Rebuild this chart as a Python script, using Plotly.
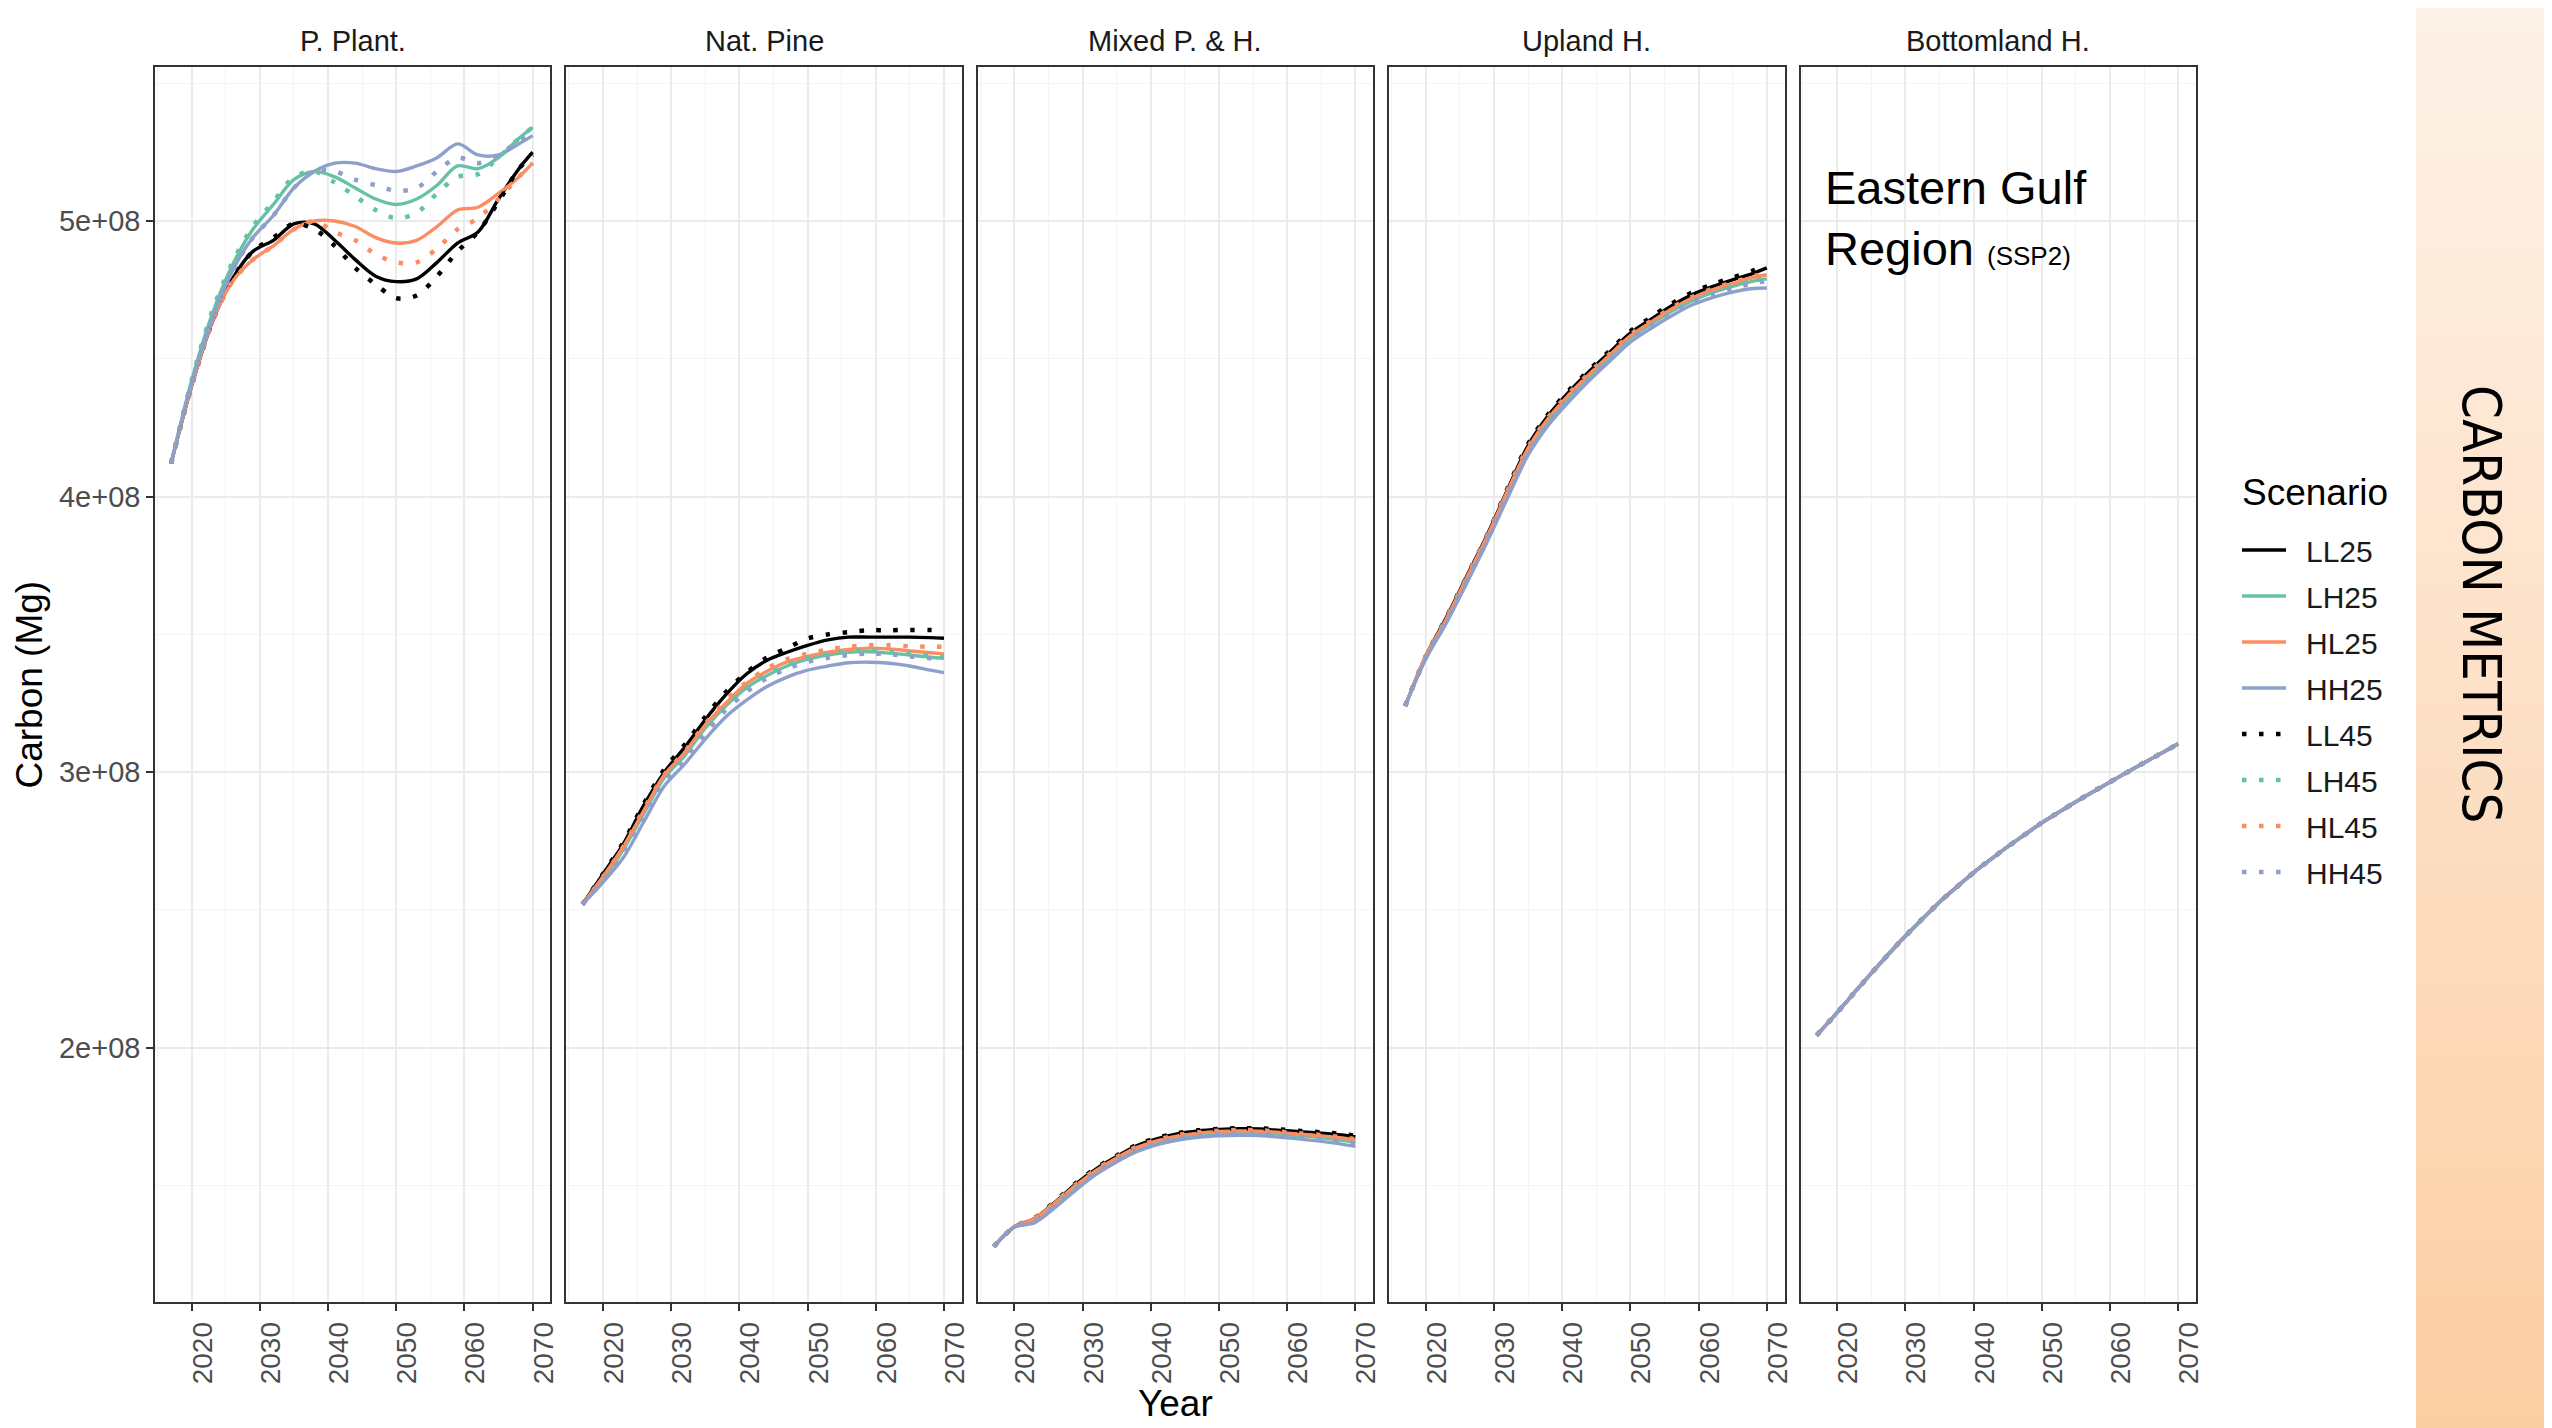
import plotly.graph_objects as go

# ---------------- data (values in units of 1e8 Mg) ----------------
YEARS = [2017, 2020, 2023, 2026, 2029, 2032, 2035, 2038, 2041, 2044, 2047,
         2050, 2053, 2056, 2059, 2062, 2065, 2068, 2070]
UNIT = 1e8

PANELS = ["P. Plant.", "Nat. Pine", "Mixed P. & H.", "Upland H.", "Bottomland H."]
SCENARIOS = ["LL25", "LH25", "HL25", "HH25", "LL45", "LH45", "HL45", "HH45"]
SCEN_COLORS = ["#000000", "#66C2A5", "#FC8D62", "#8DA0CB",
               "#000000", "#66C2A5", "#FC8D62", "#8DA0CB"]

# P. Plant.
PP_LL25 = [4.12, 4.40, 4.63, 4.79, 4.89, 4.93, 4.99, 4.99, 4.93, 4.86, 4.80, 4.78, 4.79, 4.85, 4.92, 4.96, 5.08, 5.19, 5.25]
PP_LH25 = [4.12, 4.42, 4.66, 4.84, 4.97, 5.06, 5.15, 5.18, 5.16, 5.12, 5.08, 5.06, 5.08, 5.13, 5.20, 5.19, 5.23, 5.30, 5.34]
PP_HL25 = [4.12, 4.40, 4.63, 4.78, 4.86, 4.91, 4.97, 5.00, 5.00, 4.98, 4.94, 4.92, 4.93, 4.98, 5.04, 5.05, 5.10, 5.16, 5.21]
PP_HH25 = [4.12, 4.41, 4.64, 4.82, 4.94, 5.02, 5.12, 5.18, 5.21, 5.21, 5.19, 5.18, 5.20, 5.23, 5.28, 5.24, 5.24, 5.28, 5.31]
PP_LL45 = [4.12, 4.40, 4.63, 4.79, 4.89, 4.94, 4.99, 4.97, 4.91, 4.83, 4.77, 4.72, 4.73, 4.80, 4.89, 4.96, 5.07, 5.19, 5.24]
PP_LH45 = [4.12, 4.42, 4.67, 4.85, 4.98, 5.07, 5.16, 5.18, 5.14, 5.09, 5.04, 5.01, 5.03, 5.10, 5.16, 5.17, 5.23, 5.30, 5.34]
PP_HL45 = [4.12, 4.40, 4.63, 4.78, 4.86, 4.91, 4.97, 5.00, 4.96, 4.93, 4.88, 4.85, 4.85, 4.90, 4.97, 5.01, 5.08, 5.16, 5.21]
PP_HH45 = [4.12, 4.41, 4.64, 4.82, 4.94, 5.02, 5.12, 5.18, 5.18, 5.15, 5.13, 5.11, 5.12, 5.18, 5.23, 5.21, 5.24, 5.29, 5.31]

# Nat. Pine
NP_LL25 = [2.52, 2.63, 2.74, 2.88, 3.00, 3.09, 3.19, 3.28, 3.355, 3.405, 3.435, 3.46, 3.48, 3.49, 3.49, 3.49, 3.49, 3.488, 3.486]
NP_LH25 = [2.52, 2.61, 2.72, 2.85, 2.98, 3.06, 3.16, 3.24, 3.305, 3.35, 3.385, 3.41, 3.425, 3.435, 3.437, 3.432, 3.425, 3.417, 3.413]
NP_HL25 = [2.52, 2.62, 2.73, 2.86, 2.99, 3.07, 3.17, 3.25, 3.32, 3.365, 3.40, 3.42, 3.435, 3.445, 3.45, 3.447, 3.44, 3.433, 3.429]
NP_HH25 = [2.52, 2.60, 2.69, 2.82, 2.95, 3.03, 3.12, 3.20, 3.26, 3.31, 3.345, 3.37, 3.385, 3.397, 3.399, 3.395, 3.385, 3.37, 3.361]
NP_LL45 = [2.52, 2.63, 2.745, 2.885, 3.01, 3.10, 3.20, 3.29, 3.36, 3.415, 3.45, 3.485, 3.50, 3.508, 3.515, 3.515, 3.516, 3.516, 3.516]
NP_LH45 = [2.52, 2.61, 2.72, 2.855, 2.985, 3.065, 3.165, 3.245, 3.31, 3.355, 3.39, 3.415, 3.43, 3.44, 3.442, 3.437, 3.43, 3.422, 3.418]
NP_HL45 = [2.52, 2.62, 2.73, 2.865, 2.99, 3.075, 3.175, 3.26, 3.325, 3.375, 3.41, 3.43, 3.445, 3.455, 3.46, 3.46, 3.457, 3.455, 3.455]
NP_HH45 = [2.52, 2.605, 2.70, 2.835, 2.965, 3.045, 3.14, 3.225, 3.29, 3.34, 3.375, 3.40, 3.415, 3.425, 3.43, 3.428, 3.42, 3.413, 3.41]

# Mixed P. & H.
MX_LL25 = [1.278, 1.35, 1.38, 1.44, 1.505, 1.56, 1.605, 1.645, 1.67, 1.688, 1.698, 1.703, 1.706, 1.705, 1.70, 1.695, 1.69, 1.683, 1.676]
MX_LH25 = [1.278, 1.35, 1.375, 1.432, 1.495, 1.55, 1.595, 1.633, 1.658, 1.675, 1.685, 1.69, 1.692, 1.691, 1.686, 1.68, 1.673, 1.664, 1.657]
MX_HL25 = [1.278, 1.35, 1.38, 1.438, 1.50, 1.555, 1.60, 1.638, 1.663, 1.68, 1.69, 1.696, 1.698, 1.697, 1.692, 1.686, 1.68, 1.672, 1.665]
MX_HH25 = [1.278, 1.348, 1.365, 1.42, 1.483, 1.54, 1.585, 1.623, 1.648, 1.665, 1.675, 1.68, 1.682, 1.681, 1.675, 1.668, 1.66, 1.65, 1.642]
MX_LL45 = [1.278, 1.35, 1.382, 1.443, 1.508, 1.563, 1.608, 1.648, 1.673, 1.69, 1.70, 1.705, 1.708, 1.707, 1.703, 1.698, 1.693, 1.687, 1.68]
MX_LH45 = [1.278, 1.35, 1.376, 1.434, 1.497, 1.552, 1.597, 1.635, 1.66, 1.677, 1.687, 1.692, 1.694, 1.693, 1.688, 1.682, 1.675, 1.667, 1.66]
MX_HL45 = [1.278, 1.35, 1.381, 1.44, 1.503, 1.558, 1.603, 1.641, 1.666, 1.683, 1.693, 1.699, 1.701, 1.700, 1.695, 1.689, 1.683, 1.675, 1.668]
MX_HH45 = [1.278, 1.349, 1.37, 1.428, 1.49, 1.546, 1.591, 1.629, 1.654, 1.671, 1.681, 1.686, 1.688, 1.687, 1.681, 1.675, 1.667, 1.658, 1.65]

# Upland H.
UP_LL25 = [3.24, 3.42, 3.56, 3.71, 3.86, 4.025, 4.185, 4.295, 4.38, 4.455, 4.525, 4.593, 4.643, 4.692, 4.732, 4.762, 4.787, 4.81, 4.83]
UP_LH25 = [3.24, 3.42, 3.55, 3.70, 3.85, 4.01, 4.165, 4.275, 4.36, 4.437, 4.507, 4.575, 4.625, 4.672, 4.71, 4.74, 4.763, 4.782, 4.79]
UP_HL25 = [3.24, 3.42, 3.555, 3.705, 3.855, 4.02, 4.175, 4.285, 4.37, 4.445, 4.515, 4.583, 4.633, 4.68, 4.72, 4.75, 4.773, 4.795, 4.805]
UP_HH25 = [3.24, 3.41, 3.54, 3.685, 3.835, 3.995, 4.15, 4.26, 4.345, 4.422, 4.492, 4.56, 4.61, 4.655, 4.695, 4.722, 4.742, 4.755, 4.757]
UP_LL45 = [3.24, 3.42, 3.56, 3.71, 3.86, 4.03, 4.19, 4.30, 4.385, 4.46, 4.53, 4.60, 4.65, 4.70, 4.74, 4.77, 4.795, 4.82, 4.84]
UP_LH45 = [3.24, 3.42, 3.552, 3.702, 3.852, 4.013, 4.168, 4.278, 4.363, 4.44, 4.51, 4.578, 4.628, 4.675, 4.713, 4.743, 4.766, 4.785, 4.793]
UP_HL45 = [3.24, 3.42, 3.557, 3.707, 3.858, 4.024, 4.179, 4.289, 4.374, 4.449, 4.519, 4.587, 4.637, 4.684, 4.724, 4.754, 4.777, 4.799, 4.81]
UP_HH45 = [3.24, 3.415, 3.548, 3.695, 3.845, 4.005, 4.16, 4.27, 4.355, 4.432, 4.502, 4.57, 4.62, 4.666, 4.705, 4.734, 4.756, 4.774, 4.782]

# Bottomland H. (all scenarios coincide)
BH_ALL = [2.045, 2.127, 2.213, 2.297, 2.379, 2.455, 2.528, 2.593, 2.655, 2.711, 2.764, 2.816, 2.862, 2.907, 2.95, 2.992, 3.034, 3.075, 3.103]

Y_TICKS = [2, 3, 4, 5]
Y_TICK_LABELS = ["2e+08", "3e+08", "4e+08", "5e+08"]
Y_MINOR = [1.5, 2.5, 3.5, 4.5, 5.5]
X_TICKS = [2020, 2030, 2040, 2050, 2060, 2070]
X_MINOR = [2015, 2025, 2035, 2045, 2055, 2065]

PANEL_DATA = {
    "P. Plant.": [PP_LL25, PP_LH25, PP_HL25, PP_HH25, PP_LL45, PP_LH45, PP_HL45, PP_HH45],
    "Nat. Pine": [NP_LL25, NP_LH25, NP_HL25, NP_HH25, NP_LL45, NP_LH45, NP_HL45, NP_HH45],
    "Mixed P. & H.": [MX_LL25, MX_LH25, MX_HL25, MX_HH25, MX_LL45, MX_LH45, MX_HL45, MX_HH45],
    "Upland H.": [UP_LL25, UP_LH25, UP_HL25, UP_HH25, UP_LL45, UP_LH45, UP_HL45, UP_HH45],
    "Bottomland H.": [BH_ALL] * 8,
}

# ---------------- layout geometry (target page pixels) ----------------
W, H = 2552, 1428
OFF = 8            # default page body margin that shifts the figure
XSCALE = 2560 / 2552  # page (margin + figure) is fitted into the window width


def px(xp):
    return (xp * XSCALE - OFF) / W


def py(yp):
    return 1 - (yp - OFF) / H


FONT = "Liberation Sans, Arial, Helvetica, sans-serif"
PANEL_LEFT0 = 155.0
PANEL_STEP = 411.4
PANEL_W = 395.3
PANEL_TOP = 67.0
PANEL_BOTTOM = 1302.0
Y_DOM = [py(PANEL_BOTTOM), py(PANEL_TOP)]
X_RANGE = [2014.65, 2072.6]
Y_RANGE = [1.077 * UNIT, 5.559 * UNIT]

fig = go.Figure()

for p, panel in enumerate(PANELS):
    xa = "x" if p == 0 else f"x{p+1}"
    ya = "y" if p == 0 else f"y{p+1}"
    for s, scen in enumerate(SCENARIOS):
        vals = PANEL_DATA[panel][s]
        dotted = scen.endswith("45")
        fig.add_trace(go.Scatter(
            x=YEARS, y=[v * UNIT for v in vals],
            mode="lines", name="\u2002" + scen, legendgroup=scen,
            showlegend=(p == 0),
            line=dict(color=SCEN_COLORS[s], width=4.5 if dotted else 3.4,
                      dash="4.5px,12.5px" if dotted else "solid",
                      shape="spline", smoothing=0.9),
            xaxis=xa, yaxis=ya, hoverinfo="skip",
        ))

layout = dict(
    width=W, height=H, autosize=False,
    margin=dict(l=0, r=0, t=0, b=0),
    paper_bgcolor="white", plot_bgcolor="white",
    font=dict(family=FONT, color="#000000"),
    legend=dict(
        x=px(2237), y=py(524), xanchor="left", yanchor="top",
        font=dict(size=30, color="#1A1A1A"),
        bgcolor="rgba(0,0,0,0)", tracegroupgap=4, itemwidth=44,
    ),
    showlegend=True,
)

for p in range(len(PANELS)):
    left = PANEL_LEFT0 + p * PANEL_STEP
    dom = [px(left), px(left + PANEL_W)]
    xk = "xaxis" if p == 0 else f"xaxis{p+1}"
    yk = "yaxis" if p == 0 else f"yaxis{p+1}"
    layout[xk] = dict(
        domain=dom, range=X_RANGE, anchor="y" if p == 0 else f"y{p+1}",
        tickmode="array", tickvals=X_TICKS, ticktext=[str(t) for t in X_TICKS],
        tickangle=-90, ticks="outside", ticklen=7, tickwidth=1.5, tickcolor="#333333",
        tickfont=dict(size=28, color="#4D4D4D"), ticklabelshift=11,
        showgrid=True, gridcolor="#EBEBEB", gridwidth=1.5,
        minor=dict(tickmode="array", tickvals=X_MINOR, showgrid=True,
                   gridcolor="#F4F4F4", gridwidth=1),
        showline=True, linecolor="#333333", linewidth=1.6, mirror=True,
        zeroline=False, fixedrange=True,
    )
    layout[yk] = dict(
        domain=Y_DOM, range=Y_RANGE, anchor="x" if p == 0 else f"x{p+1}",
        tickmode="array", tickvals=[t * UNIT for t in Y_TICKS], ticktext=Y_TICK_LABELS,
        showticklabels=(p == 0), ticks="outside" if p == 0 else "",
        ticklen=7, tickwidth=1.5, tickcolor="#333333",
        tickfont=dict(size=29, color="#4D4D4D"),
        showgrid=True, gridcolor="#EBEBEB", gridwidth=1.5,
        minor=dict(tickmode="array", tickvals=[t * UNIT for t in Y_MINOR], showgrid=True,
                   gridcolor="#F4F4F4", gridwidth=1),
        showline=True, linecolor="#333333", linewidth=1.6, mirror=True,
        zeroline=False, fixedrange=True,
    )

annotations = []
for p, panel in enumerate(PANELS):
    cx = px(PANEL_LEFT0 + p * PANEL_STEP + PANEL_W / 2)
    annotations.append(dict(text=panel, x=cx, y=py(41), xref="paper", yref="paper",
                            showarrow=False, xanchor="center", yanchor="middle",
                            font=dict(size=29, color="#1A1A1A", family=FONT)))
annotations.append(dict(text="Year", x=px(1175.5), y=py(1403), xref="paper", yref="paper",
                        showarrow=False, xanchor="center", yanchor="middle",
                        font=dict(size=37, color="#000000", family=FONT)))
annotations.append(dict(text="Carbon (Mg)", x=px(29), y=py(684.5), xref="paper", yref="paper",
                        showarrow=False, xanchor="center", yanchor="middle", textangle=-90,
                        font=dict(size=37, color="#000000", family=FONT)))
annotations.append(dict(text="Scenario", x=px(2240), y=py(492), xref="paper", yref="paper",
                        showarrow=False, xanchor="left", yanchor="middle",
                        font=dict(size=37, color="#000000", family=FONT)))
annotations.append(dict(text="Eastern Gulf<br>Region <span style='font-size:26px'>(SSP2)</span>",
                        x=px(1823), y=py(218), xref="paper", yref="paper",
                        showarrow=False, xanchor="left", yanchor="middle", align="left",
                        font=dict(size=47, color="#000000", family=FONT)))
annotations.append(dict(text="CARBON METRICS", x=px(2482), y=py(604), xref="paper", yref="paper",
                        showarrow=False, xanchor="center", yanchor="middle", textangle=90,
                        font=dict(size=54, color="#000000",
                                  family="Liberation Sans Narrow, DejaVu Sans Condensed, Arial Narrow, Liberation Sans, sans-serif")))
layout["annotations"] = annotations

# gradient side band
BAND_TOP = (253, 242, 232)
BAND_BOTTOM = (252, 206, 164)
N_STRIPES = 60
shapes = []
for i in range(N_STRIPES):
    t = i / (N_STRIPES - 1)
    c = tuple(round(BAND_TOP[k] + (BAND_BOTTOM[k] - BAND_TOP[k]) * t) for k in range(3))
    y1 = 1 - i / N_STRIPES
    y0 = 1 - (i + 1) / N_STRIPES
    shapes.append(dict(type="rect", xref="paper", yref="paper", x0=px(2416), x1=1.0,
                       y0=y0 - 0.001, y1=y1, fillcolor=f"rgb{c}", line=dict(width=0), layer="below"))
layout["shapes"] = shapes

fig.update_layout(**layout)
fig.write_html("out.html", config={"displayModeBar": False})
